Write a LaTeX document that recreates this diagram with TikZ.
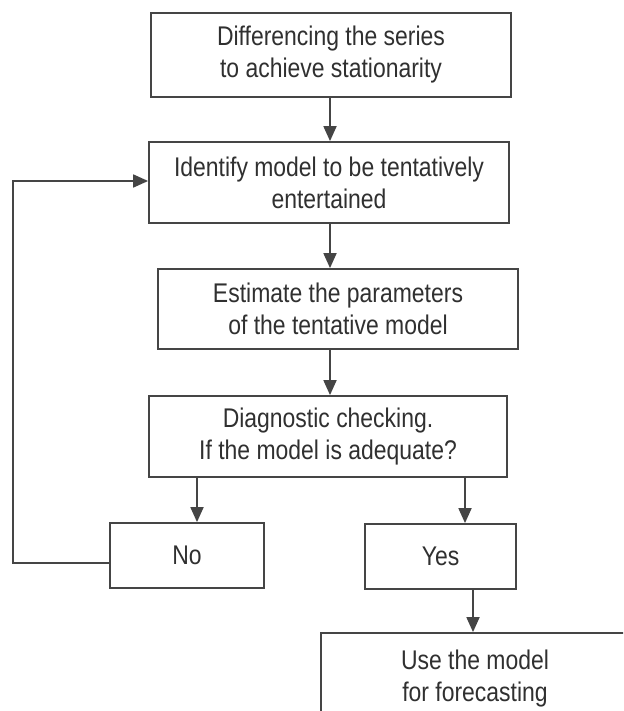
\documentclass[tikz,border=0pt]{standalone}
\usepackage{fontspec}
\setmainfont{Liberation Sans}[FakeStretch=0.85]
\usetikzlibrary{arrows.meta}
\definecolor{ink}{HTML}{454545}
\definecolor{txt}{HTML}{303030}
\begin{document}
\begin{tikzpicture}[x=1pt,y=-1pt,
  stepbox/.style={draw=ink, line width=1.8pt, align=center, text=txt,
    font=\fontsize{27}{32}\selectfont, inner sep=0pt},
  arr/.style={draw=ink, line width=1.8pt, -{Triangle[length=15pt,width=13pt]}},
  link/.style={draw=ink, line width=1.8pt}]
\useasboundingbox (0,0) rectangle (623,711);
\fill[white] (0,0) rectangle (623,711);
\clip (0,0) rectangle (623,711);
\node[stepbox, minimum width=360pt, minimum height=84pt] (b1) at (331,55)
  {Differencing the series\\to achieve stationarity};
\node[stepbox, minimum width=360pt, minimum height=81pt] (b2) at (329,182.5)
  {Identify model to be tentatively\\entertained};
\node[stepbox, minimum width=360pt, minimum height=80pt] (b3) at (338,309)
  {Estimate the parameters\\of the tentative model};
\node[stepbox, minimum width=358pt, minimum height=81pt] (b4) at (328,436.5)
  {Diagnostic checking.\\If the model is adequate?};
\node[stepbox, minimum width=154pt, minimum height=65pt] (no) at (187,555.5) {No};
\node[stepbox, minimum width=151pt, minimum height=65pt] (yes) at (440.5,556.5) {Yes};
\node[stepbox, minimum width=308pt, minimum height=92pt] (use) at (475,679)
  {Use the model\\for forecasting};
\coordinate (cx) at (330,0);
\coordinate (nox) at (197,0);
\coordinate (yx) at (465,0);
\coordinate (ux) at (473,0);
\coordinate (lx) at (13,0);
\coordinate (fy) at (0,181);
\coordinate (ny) at (0,563);
\draw[arr] (b1.south -| cx) -- (b2.north -| cx);
\draw[arr] (b2.south -| cx) -- (b3.north -| cx);
\draw[arr] (b3.south -| cx) -- (b4.north -| cx);
\draw[arr] (b4.south -| nox) -- (no.north -| nox);
\draw[arr] (b4.south -| yx) -- (yes.north -| yx);
\draw[arr] (yes.south -| ux) -- (use.north -| ux);
\draw[arr] (no.west |- ny) -- (lx |- ny) -- (lx |- fy) -- (b2.west |- fy);
\end{tikzpicture}
\end{document}
